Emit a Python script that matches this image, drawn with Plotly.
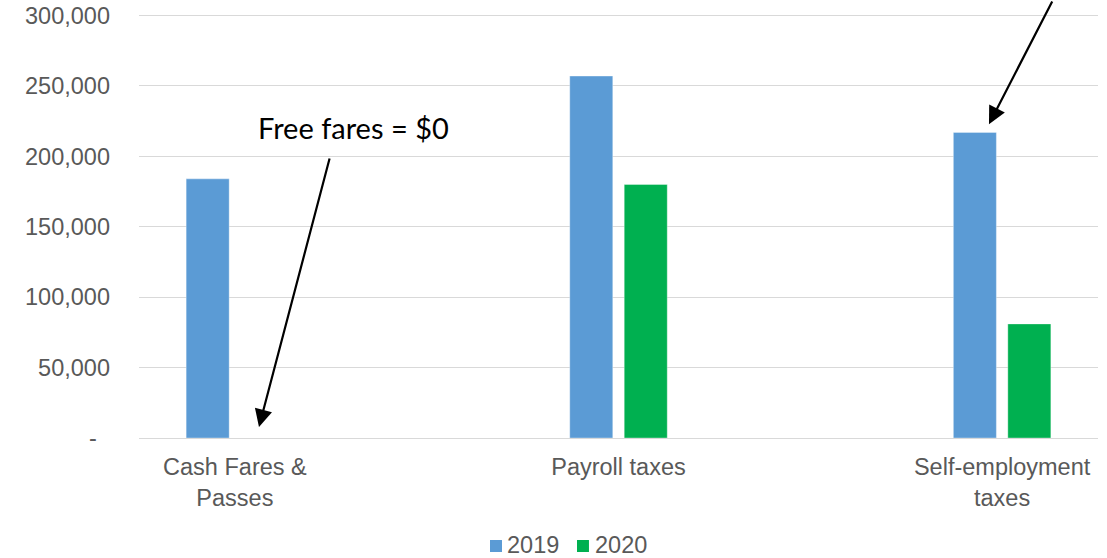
import plotly.graph_objects as go

# Revenue sources compared across two years
categories = ["Cash Fares &<br>Passes", "Payroll taxes", "Self-employment<br>taxes"]
series_names = ["2019", "2020"]
values_2019 = [184000, 257000, 217000]
values_2020 = [0, 180000, 81000]

y_tickvals = [0, 50000, 100000, 150000, 200000, 250000, 300000]
y_ticktext = ["-\u00a0\u00a0", "50,000", "100,000", "150,000", "200,000", "250,000", "300,000"]

BLUE = "#5B9BD5"
GREEN = "#00B050"
GRID = "#D9D9D9"
TEXT = "#595959"
AXIS_FONT = "Liberation Sans, Arial, sans-serif"
FONT_SIZE = 23.5

fig = go.Figure()
for name, vals, color in zip(series_names, [values_2019, values_2020], [BLUE, GREEN]):
    fig.add_trace(go.Bar(
        x=categories, y=vals, name=name,
        marker=dict(color=color, line=dict(color="rgba(255,255,255,0.35)", width=1)),
    ))

fig.update_layout(
    width=1107, height=558,
    margin=dict(l=139, r=9, t=14, b=120, autoexpand=False),
    paper_bgcolor="white", plot_bgcolor="white",
    barmode="group", bargap=0.716, bargroupgap=0.21,
    font=dict(family=AXIS_FONT, size=FONT_SIZE, color=TEXT),
    showlegend=False,
)

fig.update_xaxes(
    type="category", range=[-0.25, 2.25], automargin=False,
    showline=True, linecolor=GRID, linewidth=1.3,
    showgrid=False, ticks="", ticklabelstandoff=8,
    tickfont=dict(family=AXIS_FONT, size=FONT_SIZE, color=TEXT),
)
fig.update_yaxes(
    range=[0, 301065], automargin=False,
    tickvals=y_tickvals, ticktext=y_ticktext,
    showgrid=True, gridcolor=GRID, gridwidth=1.3,
    zeroline=False, showline=False, ticks="", ticklabelstandoff=28,
    tickfont=dict(family=AXIS_FONT, size=FONT_SIZE, color=TEXT),
)

# Legend below the plot: colour swatch followed by the series name
legend_items = [
    (series_names[0], BLUE, 0.3660, 0.3827),
    (series_names[1], GREEN, 0.4567, 0.4745),
]
for label, color, sx, tx in legend_items:
    fig.add_shape(
        type="rect", xref="paper", yref="paper",
        x0=sx, x1=sx + 0.0125, y0=-0.2689, y1=-0.2406,
        fillcolor=color, line=dict(width=0),
    )
    fig.add_annotation(
        xref="paper", yref="paper", x=tx, y=-0.2524,
        text=label, showarrow=False, xanchor="left", yanchor="middle",
        font=dict(family=AXIS_FONT, size=FONT_SIZE, color=TEXT), borderpad=0,
    )

# Callout text and arrows
fig.add_annotation(
    xref="paper", yref="paper", x=0.2232, y=0.7329,
    text="Free fares = $0", showarrow=False,
    font=dict(family="Lato, Carlito, Calibri, sans-serif", size=29, color="black"),
    xanchor="center", yanchor="middle",
)
fig.add_annotation(
    xref="paper", yref="paper", x=0.1251, y=0.026,
    ax=71, ay=-270, text="", showarrow=True,
    arrowhead=2, arrowsize=1.6, arrowwidth=2.2, arrowcolor="black", standoff=0,
)
fig.add_annotation(
    xref="paper", yref="paper", x=0.8863, y=0.740,
    ax=64, ay=-136, text="", showarrow=True,
    arrowhead=2, arrowsize=1.6, arrowwidth=2.2, arrowcolor="black", standoff=0,
)

fig.write_html("out.html")
